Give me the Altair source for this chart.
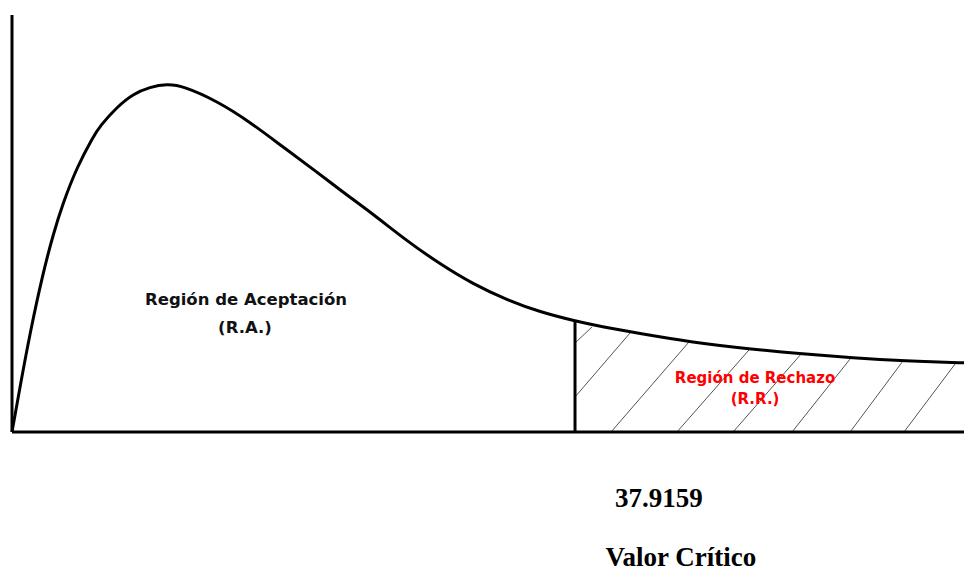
import altair as alt
import pandas as pd

# Curve (schematic chi-square density), x in chi-square units, y in density units
curve_x = [0, 0.539, 1.212, 2.088, 2.761, 3.435, 4.377, 5.455, 5.926, 7.071, 8.149,
           9.294, 10.438, 11.516, 13.806, 16.028, 18.25, 20.54, 22.089, 24.312, 26.601,
           28.824, 31.046, 33.336, 35.558, 37.9159, 39.801, 42.09, 45.66, 49.7, 53.27,
           56.637, 60.004, 64.516]
curve_y = [0, 0.01034, 0.02276, 0.03655, 0.04529, 0.05264, 0.06092, 0.06782, 0.07034,
           0.07471, 0.0777, 0.07931, 0.08, 0.07954, 0.07609, 0.07126, 0.06552, 0.05977,
           0.05563, 0.05011, 0.04391, 0.03862, 0.03402, 0.03034, 0.02759, 0.02552,
           0.02414, 0.02276, 0.02069, 0.01908, 0.01793, 0.01701, 0.01632, 0.01586]

critical_value = 37.9159
critical_height = 0.02552

# Hatch segments in the rejection region
hatch_x1 = [37.9159, 37.9159, 40.34, 44.78, 48.56, 52.53, 56.44, 60.07]
hatch_y1 = [0.02046, 0.00805, 0, 0, 0, 0, 0, 0]
hatch_x2 = [39.06, 41.62, 45.59, 49.63, 53.14, 56.44, 60.0, 63.51]
hatch_y2 = [0.02414, 0.02276, 0.02069, 0.01885, 0.01793, 0.01678, 0.01632, 0.01563]

# Axis extents
x_axis_end = 64.65
y_axis_end = 0.09586

# Labels
ra_text = ["Región de Aceptación", "(R.A.)"]
ra_x = [15.76, 15.69]
ra_y = [0.0292, 0.02276]
rr_text = ["Región de Rechazo", "(R.R.)"]
rr_x = [50.04, 50.04]
rr_y = [0.01126, 0.00644]
bottom_text = ["37.9159", "Valor Crítico"]
bottom_x = [43.57, 45.05]
bottom_y = [-0.01724, -0.0307]

X_DOMAIN = [-0.2694, 64.112]
Y_DOMAIN = [-0.03241, 0.09747]

xs = alt.Scale(domain=X_DOMAIN, nice=False, zero=False)
ys = alt.Scale(domain=Y_DOMAIN, nice=False, zero=False)

curve_df = pd.DataFrame({"x": curve_x, "y": curve_y})
hatch_df = pd.DataFrame({"x1": hatch_x1, "y1": hatch_y1, "x2": hatch_x2, "y2": hatch_y2})
axes_df = pd.DataFrame({"x1": [0, 0, critical_value], "y1": [0, 0, 0],
                        "x2": [x_axis_end, 0, critical_value],
                        "y2": [0, y_axis_end, critical_height]})
ra_df = pd.DataFrame({"t": ra_text, "x": ra_x, "y": ra_y})
rr_df = pd.DataFrame({"t": rr_text, "x": rr_x, "y": rr_y})
bt_df = pd.DataFrame({"t": bottom_text, "x": bottom_x, "y": bottom_y})

hatch = alt.Chart(hatch_df).mark_rule(color="#555555", strokeWidth=1).encode(
    x=alt.X("x1:Q", scale=xs, axis=None), y=alt.Y("y1:Q", scale=ys, axis=None),
    x2="x2:Q", y2="y2:Q")

axes = alt.Chart(axes_df).mark_rule(color="black", strokeWidth=3).encode(
    x=alt.X("x1:Q", scale=xs, axis=None), y=alt.Y("y1:Q", scale=ys, axis=None),
    x2="x2:Q", y2="y2:Q")

curve = alt.Chart(curve_df).mark_line(color="black", strokeWidth=3, interpolate="basis").encode(
    x=alt.X("x:Q", scale=xs, axis=None), y=alt.Y("y:Q", scale=ys, axis=None))

ra = alt.Chart(ra_df).mark_text(font="DejaVu Sans", fontWeight="bold", fontSize=16.5,
                                 color="#111111", align="center", baseline="alphabetic").encode(
    x=alt.X("x:Q", scale=xs, axis=None), y=alt.Y("y:Q", scale=ys, axis=None), text="t:N")

rr = alt.Chart(rr_df).mark_text(font="DejaVu Sans", fontWeight="bold", fontSize=15,
                                 color="#ff0000", align="center", baseline="alphabetic").encode(
    x=alt.X("x:Q", scale=xs, axis=None), y=alt.Y("y:Q", scale=ys, axis=None), text="t:N")

bt = alt.Chart(bt_df).mark_text(font="Liberation Serif", fontWeight="bold", fontSize=27,
                                 color="black", align="center", baseline="alphabetic").encode(
    x=alt.X("x:Q", scale=xs, axis=None), y=alt.Y("y:Q", scale=ys, axis=None), text="t:N")

chart = alt.layer(hatch, curve, axes, ra, rr, bt).properties(
    width=956, height=565, padding=0,
    autosize=alt.AutoSizeParams(type="none"),
    background="white",
).configure_view(stroke=None)

chart.save("out.html", embed_options={"renderer": "svg", "actions": False})
